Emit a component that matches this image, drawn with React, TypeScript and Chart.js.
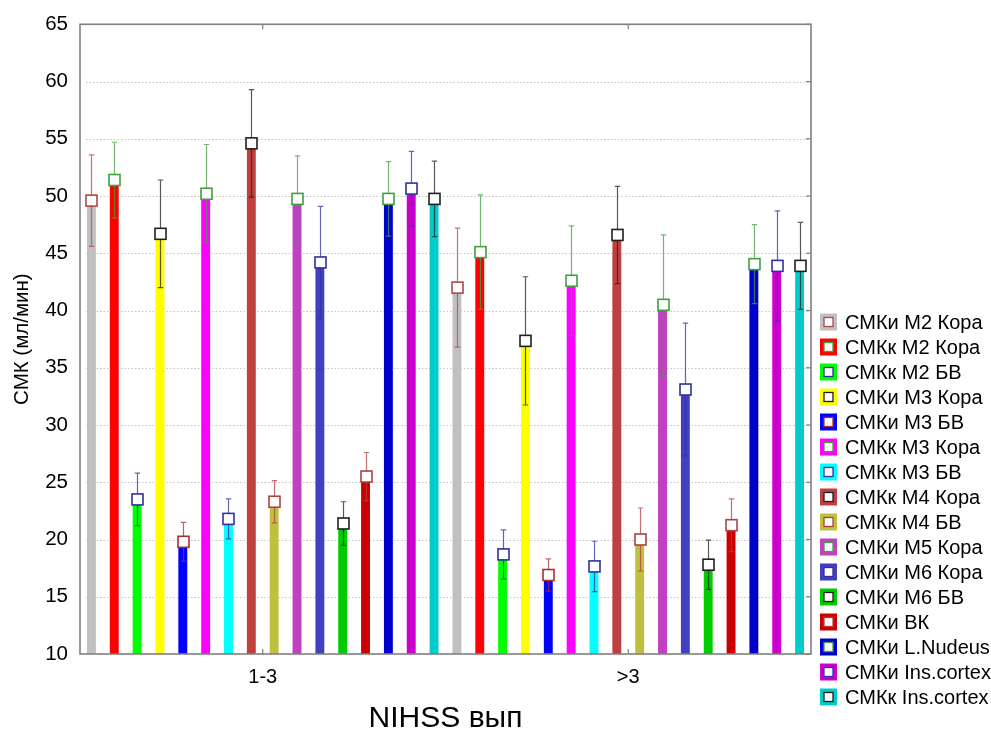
import React, { useEffect, useRef } from 'react';
import { Chart, registerables } from 'chart.js';

Chart.register(...registerables);

const categories = ['1-3', '>3'];

const seriesLabels = [
  'СМКи M2 Кора',
  'СМКк M2 Кора',
  'СМКк M2 БВ',
  'СМКи M3 Кора',
  'СМКи M3 БВ',
  'СМКк M3 Кора',
  'СМКк M3 БВ',
  'СМКк M4 Кора',
  'СМКк M4 БВ',
  'СМКи M5 Кора',
  'СМКи M6 Кора',
  'СМКи M6 БВ',
  'СМКи ВК',
  'СМКи L.Nudeus',
  'СМКи Ins.cortex',
  'СМКк Ins.cortex',
];

const barColors = [
  '#c0c0c0', '#ff0000', '#00ff00', '#ffff00', '#0000ff', '#ff00ff', '#00ffff', '#c04040',
  '#c0c040', '#c040c0', '#4040c0', '#00cc00', '#cc0000', '#0000cc', '#cc00cc', '#00cccc',
];

const markerColors = [
  '#b04848', '#40a040', '#303098', '#202020', '#a83030', '#40a040', '#3030a8', '#202020',
  '#b04040', '#40a040', '#3030a0', '#202020', '#b04040', '#40a040', '#3030a8', '#202020',
];

// means for NIHSS 1-3 and >3
const meansMild = [49.6, 51.4, 23.5, 46.7, 19.8, 50.2, 21.8, 54.6, 23.3, 49.75, 44.2, 21.4, 25.5, 49.75, 50.65, 49.75];
const meansSevere = [42.0, 45.1, 18.7, 37.35, 16.9, 42.6, 17.65, 46.6, 20.0, 40.5, 33.1, 17.8, 21.25, 44.05, 43.9, 43.9];

// half-widths of the whiskers
const errMild = [4.0, 3.3, 2.3, 4.7, 1.7, 4.3, 1.75, 4.7, 1.85, 3.75, 4.9, 1.9, 2.1, 3.25, 3.25, 3.3];
const errSevere = [5.2, 5.0, 2.15, 5.6, 1.4, 4.8, 2.2, 4.25, 2.75, 6.1, 5.8, 2.15, 2.3, 3.45, 4.8, 3.8];

const yMin = 10;
const yMax = 65;
const yStep = 5;

const FONT = '"Liberation Sans", Arial, sans-serif';

function hexA(hex: string, a: number) {
  const r = parseInt(hex.slice(1, 3), 16);
  const g = parseInt(hex.slice(3, 5), 16);
  const b = parseInt(hex.slice(5, 7), 16);
  return `rgba(${r},${g},${b},${a})`;
}

const gridPlugin = {
  id: 'dottedGrid',
  beforeDatasetsDraw(chart: any) {
    const { ctx, chartArea } = chart;
    const y = chart.scales.y;
    ctx.save();
    ctx.strokeStyle = '#c4c4c4';
    ctx.lineWidth = 1;
    ctx.setLineDash([1.5, 2]);
    for (let v = yMin + yStep; v < yMax; v += yStep) {
      const py = Math.round(y.getPixelForValue(v)) + 0.5;
      ctx.beginPath();
      ctx.moveTo(chartArea.left + 6, py);
      ctx.lineTo(chartArea.right - 2, py);
      ctx.stroke();
    }
    ctx.restore();
  },
};

const framePlugin = {
  id: 'frame',
  afterDatasetsDraw(chart: any) {
    const { ctx, chartArea } = chart;
    const { left, right, top, bottom } = chartArea;
    const y = chart.scales.y;
    const x = chart.scales.x;
    ctx.save();
    ctx.strokeStyle = '#808080';
    ctx.lineWidth = 1.6;
    ctx.strokeRect(left, top, right - left, bottom - top);
    ctx.lineWidth = 1.2;
    for (let v = yMin; v <= yMax; v += yStep) {
      const py = y.getPixelForValue(v);
      ctx.beginPath();
      ctx.moveTo(right - 5, py);
      ctx.lineTo(right, py);
      ctx.stroke();
    }
    categories.forEach((_, j) => {
      const px = x.getPixelForValue(j);
      ctx.beginPath();
      ctx.moveTo(px, top);
      ctx.lineTo(px, top + 5);
      ctx.moveTo(px, bottom - 5);
      ctx.lineTo(px, bottom);
      ctx.stroke();
    });
    ctx.restore();
  },
};

const errorPlugin = {
  id: 'errorMarkers',
  afterDatasetsDraw(chart: any) {
    const { ctx } = chart;
    const y = chart.scales.y;
    const errs = [errMild, errSevere];
    chart.data.datasets.forEach((ds: any, i: number) => {
      const meta = chart.getDatasetMeta(i);
      meta.data.forEach((el: any, j: number) => {
        const mean = ds.data[j];
        const e = errs[j][i];
        const px = Math.round(el.x) + 0.5;
        const yT = y.getPixelForValue(mean + e);
        const yB = y.getPixelForValue(mean - e);
        const yM = y.getPixelForValue(mean);
        const col = markerColors[i];
        ctx.save();
        ctx.strokeStyle = hexA(col, 0.75);
        ctx.lineWidth = 1.2;
        ctx.beginPath();
        ctx.moveTo(px, yT);
        ctx.lineTo(px, yB);
        ctx.moveTo(px - 2.7, yT);
        ctx.lineTo(px + 2.7, yT);
        ctx.moveTo(px - 2.7, yB);
        ctx.lineTo(px + 2.7, yB);
        ctx.stroke();
        const s = 11;
        ctx.fillStyle = '#ffffff';
        ctx.fillRect(px - s / 2, yM - s / 2, s, s);
        ctx.strokeStyle = col;
        ctx.lineWidth = 1.6;
        ctx.strokeRect(px - s / 2, yM - s / 2, s, s);
        ctx.restore();
      });
    });
  },
};

const legendPlugin = {
  id: 'sideLegend',
  afterDraw(chart: any) {
    const { ctx, chartArea } = chart;
    const x0 = chartArea.right + 9;
    const y0 = 322;
    const step = 25;
    ctx.save();
    ctx.font = `20px ${FONT}`;
    ctx.textBaseline = 'middle';
    ctx.textAlign = 'left';
    seriesLabels.forEach((label, i) => {
      const cy = y0 + i * step;
      ctx.fillStyle = barColors[i];
      ctx.fillRect(x0, cy - 8.5, 17, 17);
      ctx.fillStyle = '#ffffff';
      ctx.fillRect(x0 + 4, cy - 4.5, 9, 9);
      ctx.strokeStyle = markerColors[i];
      ctx.lineWidth = 1.3;
      ctx.strokeRect(x0 + 4, cy - 4.5, 9, 9);
      ctx.fillStyle = '#000000';
      ctx.fillText(label, x0 + 25, cy + 1);
    });
    ctx.restore();
  },
};

export default function App() {
  const ref = useRef<HTMLCanvasElement | null>(null);

  useEffect(() => {
    if (!ref.current) return;
    const datasets = seriesLabels.map((label, i) => ({
      label,
      data: [meansMild[i], meansSevere[i]],
      backgroundColor: barColors[i],
      borderWidth: 0,
      barPercentage: 0.39,
      categoryPercentage: 1.0,
    }));
    const chart = new Chart(ref.current, {
      type: 'bar',
      data: { labels: categories, datasets },
      options: {
        responsive: false,
        animation: false,
        devicePixelRatio: 1,
        layout: { padding: { top: 24, right: 180, left: 0, bottom: 0 } },
        plugins: {
          legend: { display: false },
          tooltip: { enabled: false },
        },
        scales: {
          x: {
            grid: { display: false, drawTicks: false },
            border: { display: false },
            ticks: { color: '#000', font: { size: 20, family: FONT }, padding: 11 },
            title: {
              display: true,
              text: 'NIHSS вып',
              color: '#000',
              font: { size: 30, family: FONT },
              padding: { top: 0, bottom: -3 },
            },
            afterFit: (s: any) => {
              s.height = 80;
            },
          },
          y: {
            min: yMin,
            max: yMax,
            grid: { display: false, drawTicks: false },
            border: { display: false },
            ticks: { stepSize: yStep, color: '#000', font: { size: 20.5, family: FONT }, padding: 12 },
            title: {
              display: true,
              text: 'СМК (мл/мин)',
              color: '#000',
              font: { size: 20.5, family: FONT },
              padding: { top: 10, bottom: 0 },
            },
            afterFit: (s: any) => {
              s.width = 80;
            },
          },
        },
      },
      plugins: [gridPlugin, framePlugin, errorPlugin, legendPlugin],
    } as any);
    return () => chart.destroy();
  }, []);

  return (
    <canvas
      ref={ref}
      width={991}
      height={734}
      style={{ position: 'fixed', left: 0, top: 0, width: 991, height: 734, background: '#fff' }}
    />
  );
}
